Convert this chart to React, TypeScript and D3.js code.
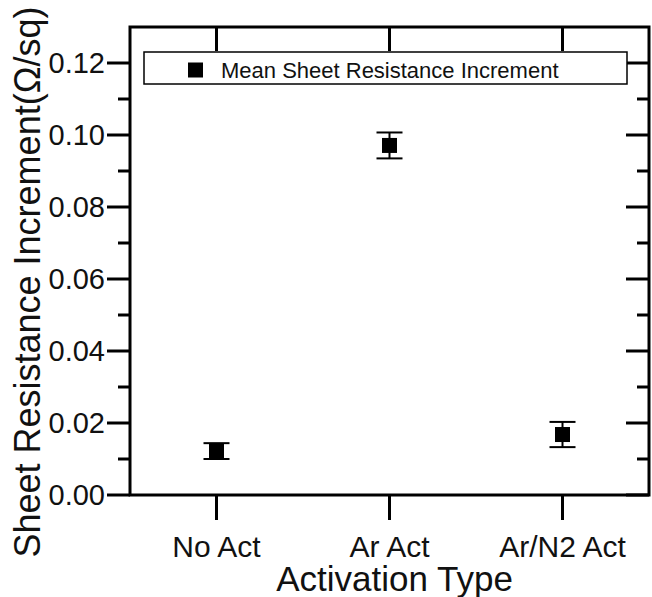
import React from "react";
import * as d3 from "d3";

const categories = ["No Act", "Ar Act", "Ar/N2 Act"];
const meanValues = [0.0122, 0.0971, 0.0168];
const errorValues = [0.0022, 0.0036, 0.0035];
const yMajorTicks = [0, 0.02, 0.04, 0.06, 0.08, 0.1, 0.12];
const yMinorTicks = [0.01, 0.03, 0.05, 0.07, 0.09, 0.11];
const legendLabel = "Mean Sheet Resistance Increment";
const xTitle = "Activation Type";
const yTitle = "Sheet Resistance Increment(Ω/sq)";

const W = 652;
const H = 597;
const left = 130;
const right = 649;
const top = 27;
const bottom = 495;
const FONT = "'Liberation Sans', Arial, Helvetica, sans-serif";

export default function App() {
  const x = d3.scaleLinear().domain([0.5, 3.5]).range([left, right]);
  const y = d3.scaleLinear().domain([0, 0.13]).range([bottom, top]);
  const majorLen = 23;
  const minorLen = 12;
  const marker = 15;
  const capHalf = 13;

  return (
    <svg
      width={W}
      height={H}
      style={{ position: "absolute", left: 0, top: 0, background: "#fff" }}
      fontFamily={FONT}
    >
      {/* left axis ticks, outward */}
      {yMajorTicks.map((t) => (
        <line key={"lm" + t} x1={left - majorLen} x2={left} y1={y(t)} y2={y(t)} stroke="#000" strokeWidth={3} />
      ))}
      {yMinorTicks.map((t) => (
        <line key={"ln" + t} x1={left - minorLen} x2={left} y1={y(t)} y2={y(t)} stroke="#000" strokeWidth={3} />
      ))}
      {/* right axis ticks, inward */}
      {yMajorTicks.map((t) => (
        <line key={"rm" + t} x1={right - majorLen} x2={right} y1={y(t)} y2={y(t)} stroke="#000" strokeWidth={3} />
      ))}
      {yMinorTicks.map((t) => (
        <line key={"rn" + t} x1={right - minorLen} x2={right} y1={y(t)} y2={y(t)} stroke="#000" strokeWidth={3} />
      ))}
      {/* bottom ticks outward, top ticks inward */}
      {categories.map((c, i) => (
        <g key={"xt" + c}>
          <line x1={x(i + 1)} x2={x(i + 1)} y1={bottom} y2={bottom + majorLen + 2} stroke="#000" strokeWidth={3} />
          <line x1={x(i + 1)} x2={x(i + 1)} y1={top} y2={top + majorLen + 1} stroke="#000" strokeWidth={3} />
        </g>
      ))}

      {/* frame */}
      <rect x={left} y={top} width={right - left} height={bottom - top} fill="none" stroke="#000" strokeWidth={3} />

      {/* y tick labels */}
      {yMajorTicks.map((t) => (
        <text
          key={"yl" + t}
          x={left - 25}
          y={y(t)}
          dy="0.36em"
          textAnchor="end"
          fontSize={29}
          fill="#111"
        >
          {d3.format(".2f")(t)}
        </text>
      ))}

      {/* x tick labels */}
      {categories.map((c, i) => (
        <text key={"xl" + c} x={x(i + 1)} y={557} textAnchor="middle" fontSize={30} fill="#111">
          {c}
        </text>
      ))}

      {/* axis titles */}
      <text x={(left + right) / 2 + 5} y={591} textAnchor="middle" fontSize={35} fill="#111">
        {xTitle}
      </text>
      <text
        transform={`translate(40, 282) rotate(-90)`}
        textAnchor="middle"
        fontSize={36}
        fill="#111"
      >
        {yTitle}
      </text>

      {/* error bars and mean markers */}
      {meanValues.map((v, i) => {
        const cx = x(i + 1);
        const e = errorValues[i];
        return (
          <g key={"pt" + i}>
            <line x1={cx} x2={cx} y1={y(v + e)} y2={y(v - e)} stroke="#000" strokeWidth={2} />
            <line x1={cx - capHalf} x2={cx + capHalf} y1={y(v + e)} y2={y(v + e)} stroke="#000" strokeWidth={2} />
            <line x1={cx - capHalf} x2={cx + capHalf} y1={y(v - e)} y2={y(v - e)} stroke="#000" strokeWidth={2} />
            <rect x={cx - marker / 2} y={y(v) - marker / 2} width={marker} height={marker} fill="#000" />
          </g>
        );
      })}

      {/* legend */}
      <rect x={144} y={52} width={483} height={32} fill="#fff" stroke="#000" strokeWidth={1.5} />
      <rect x={188} y={62.5} width={15} height={15} fill="#000" />
      <text x={221} y={77.5} fontSize={22} fill="#111">
        {legendLabel}
      </text>
    </svg>
  );
}
